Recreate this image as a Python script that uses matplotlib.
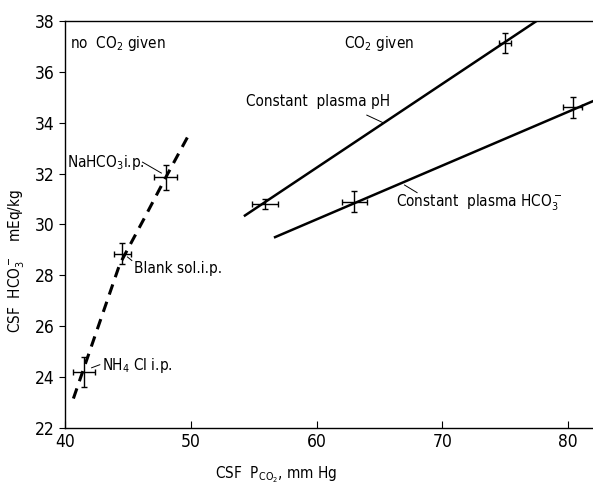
import matplotlib.pyplot as plt
import numpy as np

plt.rcParams['font.family'] = ['DejaVu Sans']
plt.rcParams['font.stretch'] = 'condensed'
plt.rcParams['mathtext.fontset'] = 'dejavusans'

# intraperitoneal loads, no CO2 given
ip_labels = [r'NH$_4$ Cl i.p.', 'Blank sol.i.p.', r'NaHCO$_3$i.p.']
ip_pco2 = [41.5, 44.55, 48.0]
ip_hco3 = [24.2, 28.85, 31.85]
ip_xerr = [0.9, 0.7, 0.9]
ip_yerr = [0.6, 0.4, 0.5]
# hand-drawn dashed curve through the three groups
ip_fit_x = [40.65, 41.8, 44.35, 46.3, 48.0, 49.75]
ip_fit_y = [23.15, 24.8, 28.45, 30.25, 31.85, 33.45]

# CO2 given, constant plasma pH
ph_pco2 = [55.9, 75.0]
ph_hco3 = [30.8, 37.15]
ph_xerr = [1.05, 0.5]
ph_yerr = [0.2, 0.4]
ph_fit_x = [54.3, 77.5]
ph_fit_y = [30.35, 38.0]

# CO2 given, constant plasma HCO3-
hc_pco2 = [63.0, 80.4]
hc_hco3 = [30.9, 34.6]
hc_xerr = [1.0, 0.75]
hc_yerr = [0.4, 0.4]
hc_fit_x = [56.7, 82.0]
hc_fit_y = [29.5, 34.85]

fig = plt.figure(figsize=(5.93, 4.9), dpi=100)
ax = fig.add_axes([0.11, 0.127, 0.89, 0.83])

ax.plot(ip_fit_x, ip_fit_y, color='black', lw=2.2, ls=(0, (3.5, 2.5)))
ax.plot(ph_fit_x, ph_fit_y, color='black', lw=1.8)
ax.plot(hc_fit_x, hc_fit_y, color='black', lw=1.8)

for xs, ys, xe, ye in [(ip_pco2, ip_hco3, ip_xerr, ip_yerr),
                       (ph_pco2, ph_hco3, ph_xerr, ph_yerr),
                       (hc_pco2, hc_hco3, hc_xerr, hc_yerr)]:
    ax.errorbar(xs, ys, xerr=xe, yerr=ye, fmt='none', ecolor='black',
                elinewidth=1, capsize=2.5, capthick=1)

# labels with leader lines
fs = 11
ax.text(40.15, 32.45, ip_labels[2], fontsize=fs, ha='left', va='center')
ax.plot([46.15, 47.65], [32.45, 32.02], color='black', lw=0.7)
ax.text(45.5, 28.25, ip_labels[1], fontsize=fs, ha='left', va='center')
ax.plot([44.95, 45.3], [28.72, 28.58], color='black', lw=0.7)
ax.text(42.9, 24.45, ip_labels[0], fontsize=fs, ha='left', va='center')
ax.plot([42.1, 42.75], [24.36, 24.48], color='black', lw=0.7)

ax.text(40.4, 37.1, r'no  CO$_2$ given', fontsize=fs, ha='left', va='center')
ax.text(62.2, 37.1, r'CO$_2$ given', fontsize=fs, ha='left', va='center')
ax.text(54.4, 34.85, 'Constant  plasma pH', fontsize=fs, ha='left', va='center')
ax.plot([64.0, 65.3], [34.3, 34.0], color='black', lw=0.7)
ax.text(66.3, 30.85, r'Constant  plasma HCO$_3^-$', fontsize=fs, ha='left', va='center')
ax.plot([67.0, 68.0], [31.55, 31.25], color='black', lw=0.7)

ax.set_xlim(40, 82)
ax.set_ylim(22, 38)
ax.set_xticks([40, 50, 60, 70, 80])
ax.set_yticks(np.arange(22, 39, 2))
ax.tick_params(axis='x', direction='in', length=5, labelsize=12.5, pad=4)
ax.tick_params(axis='y', direction='out', length=4, labelsize=12.5)
ax.spines['right'].set_visible(False)
for s in ['top', 'left', 'bottom']:
    ax.spines[s].set_linewidth(1.0)

ax.set_xlabel(r'CSF  P$_{\mathrm{CO_2}}$, mm Hg', fontsize=fs)
ax.set_ylabel(r'CSF  HCO$_3^-$   mEq/kg', fontsize=fs)
ax.xaxis.set_label_coords(0.40, -0.09)
ax.yaxis.set_label_coords(-0.073, 0.41)

plt.savefig('out.png', dpi=100)
